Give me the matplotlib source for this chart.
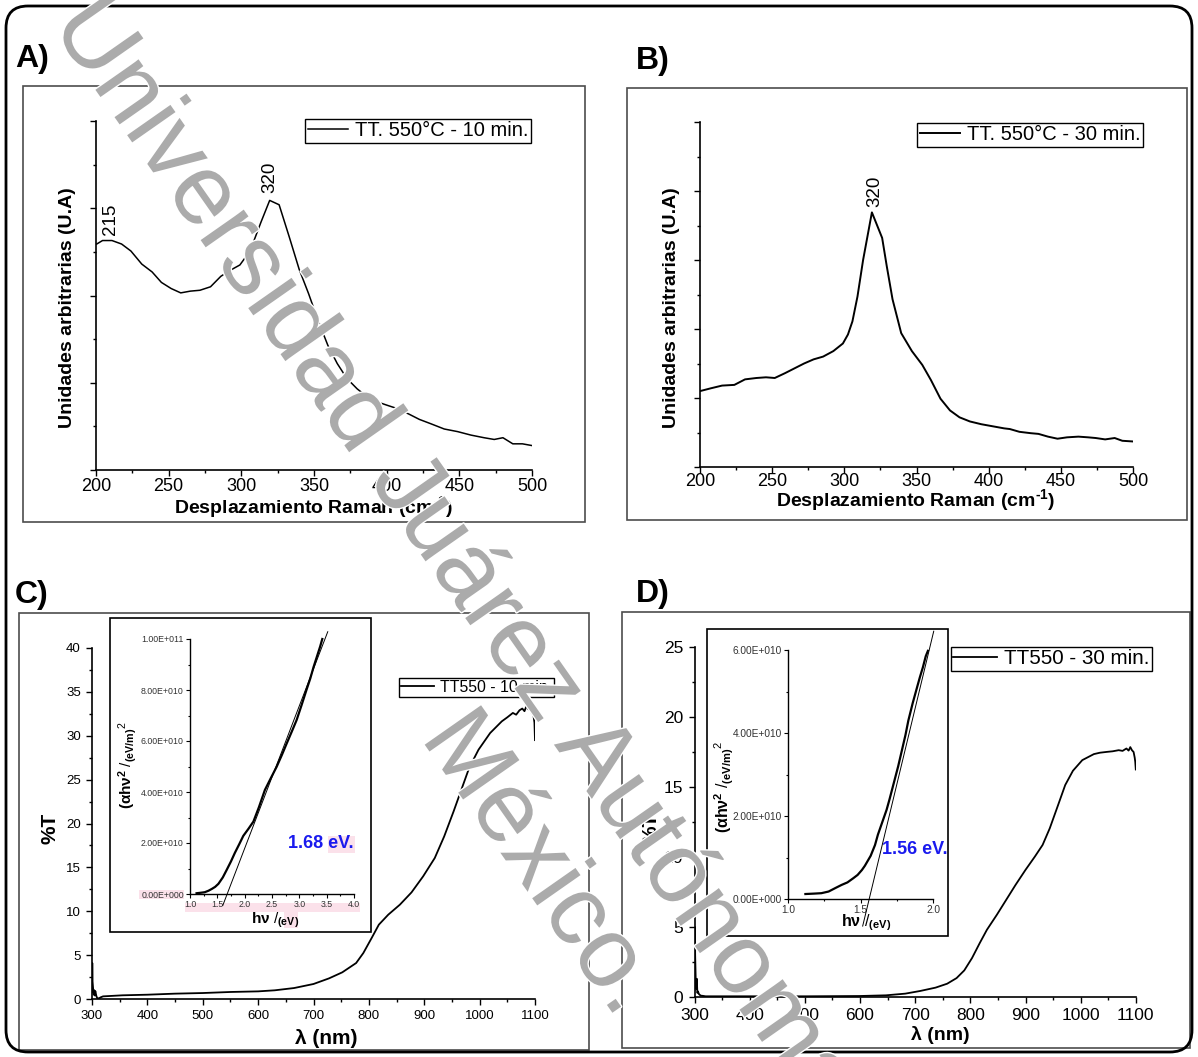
import numpy as np
import matplotlib
matplotlib.use("Agg")
import matplotlib.pyplot as plt
from matplotlib.patches import Rectangle, FancyBboxPatch
from matplotlib.ticker import MultipleLocator, FuncFormatter, FormatStrFormatter, NullFormatter
import matplotlib.patheffects as pe

# ---------------- data ----------------
# Raman spectra (arbitrary units)
raman_x_10 = [200.5, 204.5, 211, 217.6, 224, 231.5, 238.6, 245, 251.7, 258.3, 264.9, 271.5,
              278.8, 285.9, 292.5, 299, 306, 313.5, 319.5, 326, 333, 339.8, 346.3, 352.9,
              359.5, 366, 372.6, 379.7, 386.5, 393.6, 400.7, 408, 415.4, 422.5, 430.4,
              439.6, 448.8, 458, 467, 474, 480, 486.8, 493.4, 500]
raman_y_10 = [2.59, 2.63, 2.63, 2.59, 2.51, 2.36, 2.27, 2.15, 2.08, 2.03, 2.05, 2.06,
              2.10, 2.22, 2.29, 2.35, 2.51, 2.84, 3.09, 3.04, 2.67, 2.30, 2.02, 1.71,
              1.43, 1.22, 1.05, 0.93, 0.84, 0.78, 0.74, 0.70, 0.64, 0.58, 0.53,
              0.47, 0.44, 0.40, 0.37, 0.35, 0.37, 0.30, 0.30, 0.28]

raman_x_30 = [200, 207.4, 215.3, 223.8, 231.2, 239.1, 245.7, 251.8, 258.9, 265.5, 272.1,
              278.7, 285.3, 292.4, 299, 302.5, 305.6, 309.1, 313, 319.1, 326.2, 329.4,
              333.4, 339.4, 346.8, 354, 360, 366.6, 373.2, 379.8, 387, 394.9, 402.8,
              410.7, 414.7, 421.3, 429.2, 434.5, 441.1, 447.7, 454.3, 462.2, 468.9,
              474.2, 480.7, 487.3, 492.6, 500]
raman_y_30 = [1.10, 1.14, 1.18, 1.19, 1.27, 1.29, 1.30, 1.29, 1.36, 1.43, 1.50,
              1.56, 1.60, 1.68, 1.79, 1.92, 2.11, 2.47, 3.00, 3.69, 3.32, 2.91,
              2.43, 1.94, 1.68, 1.48, 1.26, 0.99, 0.82, 0.72, 0.66, 0.62, 0.59,
              0.56, 0.55, 0.51, 0.49, 0.48, 0.44, 0.41, 0.43, 0.44, 0.43,
              0.42, 0.40, 0.42, 0.38, 0.37]

# Transmittance spectra (%T vs wavelength, nm)
wl_10 = [300, 300.5, 301, 302, 303, 304, 305, 306, 308, 310, 313, 316, 320, 355, 400, 450,
         500, 550, 600, 630, 665, 700, 728, 752, 777, 790, 805, 818, 835, 856, 877, 898,
         919, 936, 953, 967, 981, 998, 1019, 1040, 1050, 1060, 1066, 1072, 1077, 1081,
         1085, 1088, 1091, 1094, 1097, 1099, 1100]
t_10 = [0.8, 4.1, 2.0, 1.2, 0.5, 1.0, 0.4, 0.9, 0.3, 0.05, 0.1, 0.2, 0.30, 0.42, 0.49, 0.61,
        0.68, 0.80, 0.87, 0.99, 1.25, 1.71, 2.35, 3.04, 4.10, 5.24, 6.95, 8.47, 9.61, 10.75,
        12.15, 13.98, 16.07, 18.53, 21.38, 23.85, 26.32, 28.41, 30.31, 31.64, 32.1, 32.6,
        32.4, 32.9, 33.1, 32.8, 33.45, 33.0, 33.2, 32.6, 32.4, 31.5, 29.5]

wl_30 = [300, 300.5, 301, 302, 303, 304, 305, 306, 308, 311, 315, 320, 336, 405, 502, 599,
         647, 682, 709, 737, 758, 775, 789, 803, 817, 830, 848, 865, 882, 900, 917, 931,
         944, 958, 972, 986, 1003, 1024, 1035, 1048, 1058, 1069, 1076, 1083, 1087, 1090,
         1093, 1096, 1098, 1099, 1100]
t_30 = [0.5, 5.0, 3.0, 1.3, 0.6, 1.3, 0.3, 0.4, 0.2, 0.1, 0.08, 0.05, 0.05, 0.05, 0.05, 0.07,
        0.12, 0.24, 0.43, 0.67, 0.95, 1.35, 1.90, 2.78, 3.85, 4.80, 5.87, 6.94, 8.01, 9.08,
        10.03, 10.86, 12.05, 13.59, 15.14, 16.16, 16.92, 17.35, 17.45, 17.51, 17.55, 17.63,
        17.58, 17.75, 17.6, 17.85, 17.63, 17.5, 17.1, 16.8, 16.25]

# Tauc plots: (alpha h nu)^2 vs h nu, with linear fit giving the band gap
hv_10 = [1.12, 1.20, 1.27, 1.34, 1.40, 1.46, 1.52, 1.60, 1.67, 1.75, 1.82, 1.90, 1.975,
         2.07, 2.16, 2.26, 2.37, 2.48, 2.585, 2.68, 2.77, 2.86, 2.95, 3.04, 3.13, 3.20,
         3.26, 3.32, 3.38, 3.42]
tauc_10 = [0.03e10, 0.05e10, 0.07e10, 0.13e10, 0.20e10, 0.28e10, 0.40e10, 0.65e10, 0.94e10,
           1.28e10, 1.61e10, 1.95e10, 2.28e10, 2.56e10, 2.84e10, 3.40e10, 4.08e10, 4.55e10,
           4.99e10, 5.45e10, 5.91e10, 6.36e10, 6.82e10, 7.40e10, 8.00e10, 8.45e10, 8.90e10,
           9.30e10, 9.70e10, 10.0e10]
gap_10 = 1.68
fit_slope_10 = 5.59e10
fit_range_10 = [1.60, 3.52]

hv_30 = [1.12, 1.18, 1.23, 1.28, 1.33, 1.37, 1.41, 1.45, 1.48, 1.51, 1.53, 1.55, 1.57, 1.60,
         1.62, 1.65, 1.68, 1.70, 1.73, 1.76, 1.78, 1.81, 1.83, 1.86, 1.89, 1.91, 1.93, 1.95,
         1.965]
tauc_30 = [0.12e10, 0.13e10, 0.14e10, 0.18e10, 0.27e10, 0.34e10, 0.40e10, 0.50e10, 0.58e10,
           0.70e10, 0.80e10, 0.92e10, 1.04e10, 1.30e10, 1.55e10, 1.85e10, 2.15e10, 2.40e10,
           2.80e10, 3.20e10, 3.50e10, 3.95e10, 4.30e10, 4.72e10, 5.10e10, 5.35e10, 5.58e10,
           5.85e10, 5.98e10]
gap_30 = 1.56
fit_slope_30 = 14.5e10
fit_range_30 = [1.515, 2.005]

legend_a = "TT. 550°C - 10 min."
legend_b = "TT. 550°C - 30 min."
legend_c = "TT550 - 10 min."
legend_d = "TT550 - 30 min."
raman_label = "Desplazamiento Raman (cm$^{\\mathbf{\u2010}\\mathbf{1}}$)"

# ---------------- style ----------------
plt.rcParams["font.family"] = ["Liberation Sans", "DejaVu Sans"]
plt.rcParams["mathtext.fontset"] = "custom"
plt.rcParams["mathtext.rm"] = "Liberation Sans"
plt.rcParams["mathtext.it"] = "Liberation Sans:italic"
plt.rcParams["mathtext.bf"] = "Liberation Sans:bold"

W, H = 1198, 1057
fig = plt.figure(figsize=(W / 100, H / 100), dpi=100)
fig.patch.set_facecolor("white")


def add_ax(x0, x1, y0, y1):
    """Axes placed by pixel edges (y measured from the top)."""
    ax = fig.add_axes([x0 / W, 1 - y1 / H, (x1 - x0) / W, (y1 - y0) / H])
    ax.set_facecolor("none")
    for s in ("top", "right"):
        ax.spines[s].set_visible(False)
    for s in ("left", "bottom"):
        ax.spines[s].set_linewidth(1.2)
    return ax


def ftext(x, y, s, **kw):
    return fig.text(x / W, 1 - y / H, s, **kw)


def frame(x0, y0, x1, y1, lw=1.2, color="#4d4d4d"):
    fig.add_artist(Rectangle((x0, H - y1), x1 - x0, y1 - y0, transform=None,
                             fill=False, lw=lw, ec=color, zorder=5))


def highlight(x0, y0, x1, y1):
    fig.add_artist(Rectangle((x0, H - y1), x1 - x0, y1 - y0, transform=None,
                             fill=True, lw=0, fc="#fbe1ea", zorder=-1))


def add_legend(ax, label, right, top, size, hlen=2.1):
    leg = ax.legend([label], loc="upper right", bbox_to_anchor=(right / W, 1 - top / H),
                    bbox_transform=fig.transFigure, borderaxespad=0, fontsize=size,
                    fancybox=False, framealpha=1, edgecolor="black", borderpad=0.12,
                    handlelength=hlen, handletextpad=0.35)
    leg.get_frame().set_linewidth(1.0)
    return leg


sci = FuncFormatter(lambda v, p: "0.00E+000" if v == 0 else
                    "{:.2f}E+{:03d}".format(v / 10 ** int(np.floor(np.log10(abs(v)))),
                                             int(np.floor(np.log10(abs(v))))))

# outer rounded frame
fig.add_artist(FancyBboxPatch((6, H - 1052), 1186, 1046, boxstyle="round,pad=0,rounding_size=22",
                              transform=None, fill=False, lw=2.0, ec="black", zorder=6))

# ---------------- A) Raman, 10 min ----------------
frame(23, 86, 585, 522)
axa = add_ax(96, 532, 121, 470)
axa.plot(raman_x_10, raman_y_10, color="black", lw=1.1, label=legend_a)
axa.set_xlim(200, 500)
axa.set_ylim(0, 4)
axa.xaxis.set_major_locator(MultipleLocator(50))
axa.xaxis.set_minor_locator(MultipleLocator(25))
axa.yaxis.set_major_locator(MultipleLocator(1))
axa.yaxis.set_minor_locator(MultipleLocator(0.5))
axa.yaxis.set_major_formatter(NullFormatter())
axa.tick_params(which="major", direction="out", length=4, width=1, labelsize=13, pad=2)
axa.tick_params(which="minor", direction="out", length=2, width=1)
axa.text(210, 2.69, "215", rotation=90, ha="center", va="bottom", fontsize=13.5)
axa.text(319.4, 3.17, "320", rotation=90, ha="center", va="bottom", fontsize=13.5)
add_legend(axa, legend_a, 531, 119, 14.5, hlen=2.0)
ftext(314, 507, raman_label, ha="center", va="center", fontsize=14, fontweight="bold")
ftext(67, 308, "Unidades arbitrarias (U.A)", ha="center", va="center", rotation=90,
      fontsize=14, fontweight="bold")
ftext(15, 67, "A)", ha="left", va="baseline", fontsize=23, fontweight="bold")

# ---------------- B) Raman, 30 min ----------------
frame(627, 88, 1187, 520)
axb = add_ax(700, 1133, 122, 467)
axb.plot(raman_x_30, raman_y_30, color="black", lw=1.4, label=legend_b)
axb.set_xlim(200, 500)
axb.set_ylim(0, 5)
axb.xaxis.set_major_locator(MultipleLocator(50))
axb.xaxis.set_minor_locator(MultipleLocator(25))
axb.yaxis.set_major_locator(MultipleLocator(1))
axb.yaxis.set_minor_locator(MultipleLocator(0.5))
axb.yaxis.set_major_formatter(NullFormatter())
axb.tick_params(which="major", direction="out", length=4, width=1, labelsize=13, pad=0.5)
axb.tick_params(which="minor", direction="out", length=2, width=1)
axb.text(321, 3.77, "320", rotation=90, ha="center", va="bottom", fontsize=13.5)
add_legend(axb, legend_b, 1143, 123, 14.5, hlen=2.0)
ftext(916, 500, raman_label, ha="center", va="center", fontsize=14, fontweight="bold")
ftext(672, 308, "Unidades arbitrarias (U.A)", ha="center", va="center", rotation=90,
      fontsize=14, fontweight="bold")
ftext(636, 69, "B)", ha="left", va="baseline", fontsize=23, fontweight="bold")

# ---------------- C) Transmittance, 10 min ----------------
frame(19, 613, 589, 1050)
axc = add_ax(92, 535, 648, 999)
axc.plot(wl_10, t_10, color="black", lw=1.3, label=legend_c)
axc.set_xlim(300, 1100)
axc.set_ylim(0, 40)
axc.xaxis.set_major_locator(MultipleLocator(100))
axc.xaxis.set_minor_locator(MultipleLocator(50))
axc.yaxis.set_major_locator(MultipleLocator(5))
axc.yaxis.set_minor_locator(MultipleLocator(2.5))
axc.tick_params(which="major", direction="out", length=4, width=1, labelsize=9.5, pad=4)
axc.tick_params(which="minor", direction="out", length=2.5, width=1)
add_legend(axc, legend_c, 554, 678, 11.4)
ftext(326, 1038, "λ (nm)", ha="center", va="center", fontsize=15, fontweight="bold")
ftext(50, 828, "%T", ha="center", va="center", rotation=90, fontsize=15, fontweight="bold")
ftext(15, 603, "C)", ha="left", va="baseline", fontsize=23, fontweight="bold")

# inset: Tauc plot, 10 min
frame(110, 618, 371, 932, lw=1.2, color="black")
highlight(139, 890, 184, 899)
highlight(185, 903, 360, 912)
highlight(284, 912, 298, 928)
highlight(328, 836, 355, 853)
axci = add_ax(190, 354, 639, 894)
axci.plot(hv_10, tauc_10, color="black", lw=1.6, clip_on=False)
fx = np.array(fit_range_10)
axci.plot(fx, fit_slope_10 * (fx - gap_10), color="black", lw=0.7, clip_on=False)
axci.set_xlim(1.0, 4.0)
axci.set_ylim(0, 1.0e11)
axci.xaxis.set_major_locator(MultipleLocator(0.5))
axci.xaxis.set_minor_locator(MultipleLocator(0.25))
axci.yaxis.set_major_locator(MultipleLocator(2e10))
axci.yaxis.set_minor_locator(MultipleLocator(1e10))
axci.xaxis.set_major_formatter(FormatStrFormatter("%.1f"))
axci.yaxis.set_major_formatter(sci)
for s in ("left", "bottom"):
    axci.spines[s].set_linewidth(1.0)
axci.tick_params(which="major", direction="out", length=3, width=0.8, labelsize=6.3,
                 pad=1.5, labelcolor="#333333")
axci.tick_params(which="minor", direction="out", length=1.5, width=0.8)
ftext(321, 844, "%.2f eV." % gap_10, ha="center", va="center", fontsize=13,
      fontweight="bold", color="#1a1aee")
ftext(128, 765, r"$\mathbf{(αhν}^{\mathbf{2}}\ \mathit{/}_{\mathbf{(eV/m)}}$$^{2}$",
      ha="center", va="center", rotation=90, fontsize=11)
ftext(275, 920, r"$\mathbf{hν}\ \mathit{/}_{\mathbf{(eV)}}$", ha="center", va="center",
      fontsize=11)

# ---------------- D) Transmittance, 30 min ----------------
frame(622, 612, 1190, 1048)
axd = add_ax(694.6, 1135.8, 647, 997)
axd.plot(wl_30, t_30, color="black", lw=1.3, label=legend_d)
axd.set_xlim(300, 1100)
axd.set_ylim(0, 25)
axd.xaxis.set_major_locator(MultipleLocator(100))
axd.xaxis.set_minor_locator(MultipleLocator(50))
axd.yaxis.set_major_locator(MultipleLocator(5))
axd.yaxis.set_minor_locator(MultipleLocator(2.5))
axd.tick_params(which="major", direction="out", length=4, width=1, labelsize=12.5, pad=4)
axd.tick_params(which="minor", direction="out", length=2.5, width=1)
add_legend(axd, legend_d, 1152, 647, 14.9)
ftext(940, 1035, "λ (nm)", ha="center", va="center", fontsize=14, fontweight="bold")
ftext(651, 828, "%T", ha="center", va="center", rotation=90, fontsize=15, fontweight="bold")
ftext(636, 602, "D)", ha="left", va="baseline", fontsize=23, fontweight="bold")

# inset: Tauc plot, 30 min
frame(707, 629, 948, 936, lw=1.2, color="black")
axdi = add_ax(788, 933, 650, 899)
axdi.plot(hv_30, tauc_30, color="black", lw=1.6, clip_on=False)
fx = np.array(fit_range_30)
axdi.plot(fx, fit_slope_30 * (fx - gap_30), color="black", lw=0.7, clip_on=False)
axdi.set_xlim(1.0, 2.0)
axdi.set_ylim(0, 6e10)
axdi.xaxis.set_major_locator(MultipleLocator(0.5))
axdi.xaxis.set_minor_locator(MultipleLocator(0.25))
axdi.yaxis.set_major_locator(MultipleLocator(2e10))
axdi.yaxis.set_minor_locator(MultipleLocator(1e10))
axdi.xaxis.set_major_formatter(FormatStrFormatter("%.1f"))
axdi.yaxis.set_major_formatter(sci)
for s in ("left", "bottom"):
    axdi.spines[s].set_linewidth(1.0)
axdi.tick_params(which="major", direction="out", length=3, width=0.8, labelsize=7.3,
                 pad=1.5, labelcolor="#333333")
axdi.tick_params(which="minor", direction="out", length=1.5, width=0.8)
ftext(915, 850, "%.2f eV." % gap_30, ha="center", va="center", fontsize=13,
      fontweight="bold", color="#1a1aee")
ftext(724, 787, r"$\mathbf{(αhν}^{\mathbf{2}}\ \mathit{/}_{\mathbf{(eV/m)}}$$^{2}$",
      ha="center", va="center", rotation=90, fontsize=11.5)
ftext(866, 923, r"$\mathbf{hν}\ \mathit{/}_{\mathbf{(eV)}}$", ha="center", va="center",
      fontsize=11.5)

# ---------------- watermark ----------------
wm = dict(rotation=-55, rotation_mode="anchor", ha="left", va="baseline", fontsize=72,
          color="#ababab", zorder=10,
          path_effects=[pe.withStroke(linewidth=2, foreground="white")])
ftext(50, 25, "Universidad Juárez Autónoma de Tabasco.", **wm)
ftext(420, 738, "México.", **wm)

fig.savefig("out.png", dpi=100)
